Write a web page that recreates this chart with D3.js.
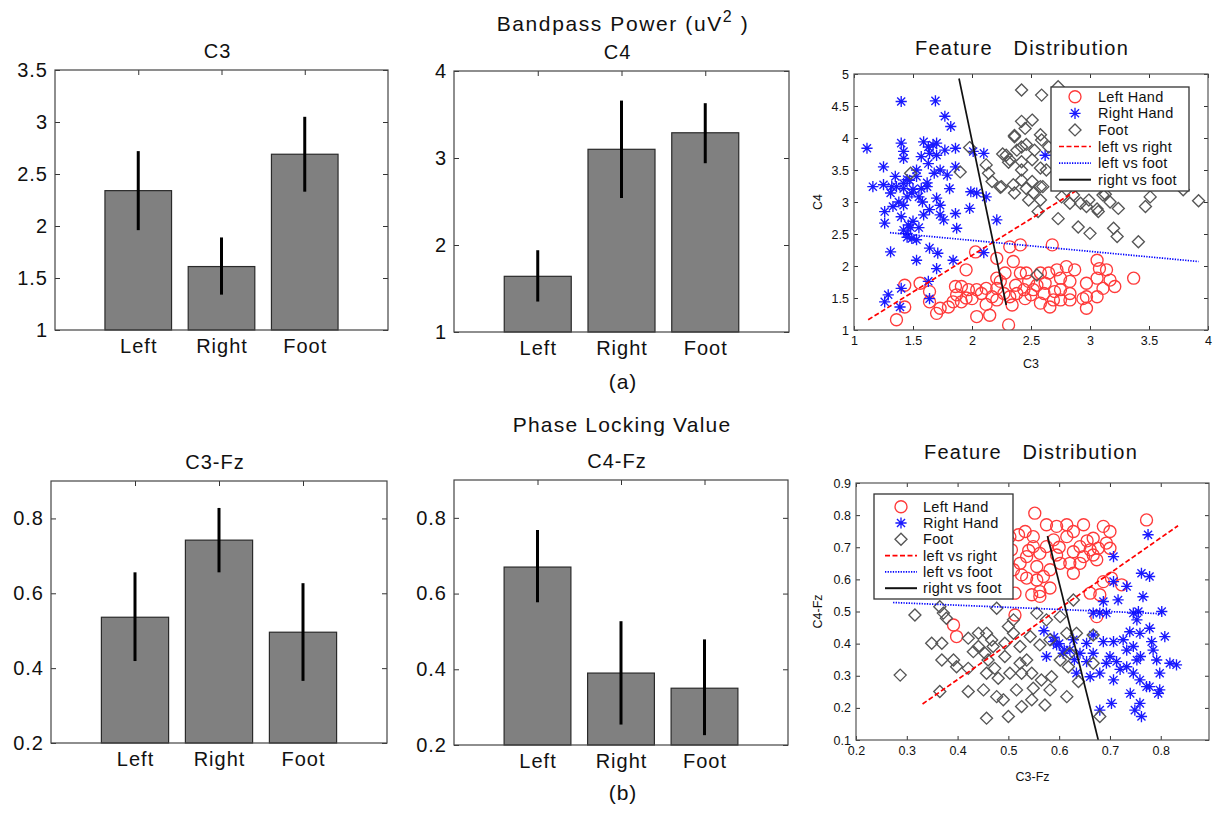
<!DOCTYPE html>
<html><head><meta charset="utf-8">
<script src="https://cdn.jsdelivr.net/npm/d3@7"></script>
<style>
body{margin:0;background:#fff}
text{font-family:"Liberation Sans",Arial,sans-serif;fill:#111}
</style>
</head><body>
<svg id="c" width="1219" height="814"></svg>
<script>
// ---------- DATA ----------
const categories = ["Left","Right","Foot"];
const c3Mean = [2.34,1.61,2.69], c3Lo = [1.96,1.34,2.33], c3Hi = [2.72,1.89,3.05];
const c4Mean = [1.64,3.10,3.29], c4Lo = [1.35,2.54,2.94], c4Hi = [1.94,3.66,3.63];
const c3fzMean = [0.536,0.742,0.496], c3fzLo = [0.419,0.656,0.366], c3fzHi = [0.656,0.828,0.627];
const c4fzMean = [0.670,0.390,0.350], c4fzLo = [0.577,0.254,0.226], c4fzHi = [0.768,0.527,0.479];
const c3Ticks = [1,1.5,2,2.5,3,3.5];
const c4Ticks = [1,2,3,4];
const plvTicks = [0.2,0.4,0.6,0.8];
const bpXTicks = [1,1.5,2,2.5,3,3.5,4];
const bpYTicks = [1,1.5,2,2.5,3,3.5,4,4.5,5];
const plvXTicks = [0.2,0.3,0.4,0.5,0.6,0.7,0.8];
const plvYTicks = [0.1,0.2,0.3,0.4,0.5,0.6,0.7,0.8,0.9];
const legendLabels = ["Left Hand","Right Hand","Foot","left vs right","left vs foot","right vs foot"];

// Bandpass power feature distribution (C3, C4)
const bpLeft = [[2.41,2.33],[2.32,2.30],[2.68,2.33],[2.03,2.22],[2.21,2.12],[2.35,2.07],[1.95,1.94],[2.28,1.89],[2.24,1.76],[2.41,1.89],
[2.48,1.76],[2.58,1.89],[2.65,1.89],[2.72,1.94],[2.80,1.99],[2.87,1.94],[2.75,1.81],[2.83,1.76],[3.06,2.09],[3.08,1.96],
[3.14,1.94],[3.17,1.78],[3.21,1.68],[3.37,1.81],[2.97,1.73],[3.06,1.81],[2.97,1.52],[3.06,1.52],[2.97,1.34],[2.83,1.57],
[2.75,1.63],[2.69,1.47],[2.66,1.36],[2.58,1.42],[2.61,1.57],[2.52,1.63],[2.44,1.63],[2.38,1.57],[2.32,1.52],[2.34,1.39],
[2.31,1.08],[2.15,1.23],[2.04,1.21],[2.17,1.52],[2.12,1.65],[2.08,1.57],[2.04,1.63],[1.97,1.63],[1.91,1.68],[1.86,1.68],
[1.87,1.55],[1.91,1.44],[1.84,1.44],[1.80,1.36],[1.73,1.34],[1.70,1.26],[1.64,1.44],[1.64,1.60],[1.56,1.73],[1.43,1.70],
[1.43,1.36],[1.36,1.16],[2.21,1.65],[2.21,1.47],[2.00,1.49],[2.21,1.81],[2.27,1.57],[2.37,1.70],[2.45,1.49],[2.62,1.73],
[2.70,1.60],[2.94,1.49],[2.83,1.47],[3.11,1.65],[2.46,1.89],[2.75,1.47],[2.55,1.70],[2.50,1.55],[2.12,1.40],[1.95,1.50]];
const bpRight = [[1.40,4.57],[1.69,4.58],[1.77,4.34],[1.82,4.18],[1.11,3.84],[1.40,3.92],[1.42,3.79],[1.42,3.68],[1.59,3.94],[1.63,3.86],
[1.67,3.89],[1.70,3.92],[1.64,3.76],[1.70,3.73],[1.77,3.81],[1.86,3.84],[1.57,3.71],[1.53,3.50],[1.63,3.60],[1.73,3.50],
[1.79,3.42],[1.86,3.55],[1.25,3.55],[1.16,3.24],[1.25,3.27],[1.32,3.24],[1.31,3.14],[1.36,3.24],[1.42,3.29],[1.42,3.21],
[1.47,3.34],[1.53,3.40],[1.49,3.14],[1.55,3.08],[1.45,3.08],[1.57,3.21],[1.62,3.24],[1.70,3.06],[1.73,2.95],[1.81,3.21],
[1.26,2.85],[1.26,2.67],[1.33,2.93],[1.42,2.95],[1.40,2.77],[1.46,2.64],[1.45,2.51],[1.49,2.43],[1.53,2.41],[1.42,2.56],
[1.59,2.80],[1.64,2.88],[1.73,2.80],[1.76,2.72],[1.86,2.82],[1.87,2.59],[1.98,2.90],[1.99,3.16],[2.04,3.14],[2.12,3.08],
[2.01,3.79],[2.10,3.76],[2.21,2.72],[1.31,2.22],[1.53,2.09],[1.64,2.28],[1.71,2.20],[1.84,2.09],[1.70,1.96],[2.10,2.21],
[2.62,3.73],[1.40,1.65],[1.29,1.55],[1.26,1.44],[1.39,1.36],[1.63,1.76],[1.64,1.49],[1.45,3.35],[1.50,3.20],[1.38,3.00],
[1.55,2.60],[1.50,2.70],[1.45,2.45],[1.62,3.30],[1.68,3.45],[1.35,3.40],[1.58,3.00],[1.48,2.60]];
const bpFoot = [[2.42,4.75],[2.59,4.67],[2.73,4.80],[2.42,4.26],[2.51,4.28],[2.45,4.15],[2.36,4.02],[2.58,4.05],[2.59,3.97],[2.38,3.81],
[2.42,3.86],[2.53,3.81],[2.65,3.86],[1.98,3.85],[2.29,3.73],[2.32,3.66],[2.42,3.63],[2.42,3.50],[2.51,3.66],[2.58,3.53],
[2.63,3.50],[2.12,3.58],[2.14,3.45],[2.17,3.32],[2.25,3.24],[1.90,3.47],[1.48,3.45],[2.35,3.27],[2.36,3.14],[2.42,3.34],
[2.46,3.21],[2.51,3.32],[2.52,3.14],[2.58,3.24],[2.58,3.03],[2.48,3.03],[2.56,2.85],[2.60,3.24],[2.73,2.74],[2.76,3.08],
[2.83,2.98],[2.86,3.11],[2.92,2.98],[2.99,3.03],[2.97,2.93],[3.07,2.85],[3.11,3.11],[3.17,3.00],[3.24,2.90],[2.90,2.61],
[3.00,2.51],[3.20,2.59],[3.23,2.46],[3.41,2.38],[3.47,2.93],[3.51,3.08],[3.79,3.19],[3.92,3.02],[2.55,1.86],[2.26,3.75],
[2.31,3.62],[2.24,3.23],[3.06,2.89],[3.13,3.12],[2.36,4.04],[2.46,3.90]];
// Phase locking value feature distribution (C3-Fz, C4-Fz)
const plvLeft = [[0.552,0.806],[0.533,0.749],[0.520,0.739],[0.549,0.733],[0.575,0.770],[0.595,0.765],[0.615,0.770],[0.648,0.770],[0.628,0.749],[0.667,0.728],
[0.687,0.765],[0.700,0.749],[0.693,0.713],[0.700,0.697],[0.677,0.697],[0.661,0.692],[0.641,0.702],[0.648,0.671],[0.667,0.676],[0.674,0.661],
[0.641,0.650],[0.621,0.650],[0.628,0.619],[0.602,0.650],[0.595,0.676],[0.575,0.702],[0.562,0.681],[0.556,0.640],[0.536,0.671],[0.523,0.650],
[0.510,0.630],[0.526,0.614],[0.536,0.604],[0.556,0.598],[0.569,0.609],[0.582,0.630],[0.562,0.562],[0.582,0.573],[0.562,0.547],[0.513,0.557],
[0.513,0.489],[0.546,0.552],[0.661,0.557],[0.687,0.593],[0.703,0.604],[0.723,0.583],[0.680,0.552],[0.674,0.484],[0.772,0.785],[0.392,0.458],
[0.398,0.422],[0.506,0.692],[0.503,0.733],[0.615,0.733],[0.549,0.702],[0.589,0.723],[0.628,0.686],[0.540,0.690],[0.600,0.700],[0.655,0.720]];
const plvRight = [[0.775,0.739],[0.707,0.671],[0.707,0.593],[0.716,0.536],[0.687,0.531],[0.733,0.578],[0.762,0.619],[0.778,0.609],[0.765,0.546],[0.802,0.500],
[0.667,0.495],[0.680,0.495],[0.693,0.495],[0.746,0.495],[0.756,0.500],[0.753,0.474],[0.778,0.448],[0.808,0.422],[0.785,0.380],[0.739,0.437],
[0.726,0.412],[0.707,0.406],[0.687,0.406],[0.667,0.427],[0.654,0.401],[0.641,0.370],[0.621,0.380],[0.608,0.370],[0.595,0.396],[0.628,0.412],
[0.589,0.406],[0.575,0.360],[0.693,0.339],[0.713,0.344],[0.733,0.328],[0.753,0.349],[0.792,0.349],[0.798,0.308],[0.818,0.339],[0.831,0.334],
[0.680,0.308],[0.661,0.297],[0.707,0.287],[0.746,0.308],[0.759,0.287],[0.772,0.266],[0.795,0.245],[0.740,0.245],[0.759,0.214],[0.749,0.193],
[0.762,0.173],[0.703,0.214],[0.680,0.193],[0.798,0.256],[0.634,0.308],[0.654,0.344],[0.667,0.370],[0.746,0.391],[0.759,0.432],[0.778,0.266],
[0.733,0.380],[0.700,0.360],[0.782,0.406],[0.570,0.440],[0.590,0.420],[0.610,0.380],[0.600,0.400],[0.630,0.350],[0.720,0.320],[0.760,0.360]];
const plvFoot = [[0.287,0.302],[0.316,0.489],[0.365,0.515],[0.372,0.495],[0.378,0.479],[0.349,0.401],[0.369,0.401],[0.369,0.349],[0.392,0.349],[0.365,0.251],
[0.398,0.328],[0.421,0.417],[0.421,0.323],[0.421,0.251],[0.441,0.432],[0.441,0.391],[0.457,0.432],[0.467,0.411],[0.454,0.370],[0.460,0.349],
[0.457,0.308],[0.451,0.256],[0.457,0.168],[0.473,0.323],[0.480,0.292],[0.477,0.235],[0.493,0.401],[0.493,0.360],[0.500,0.453],[0.510,0.474],
[0.510,0.432],[0.523,0.391],[0.523,0.339],[0.526,0.308],[0.503,0.308],[0.490,0.225],[0.500,0.173],[0.516,0.256],[0.526,0.204],[0.543,0.422],
[0.546,0.308],[0.549,0.261],[0.546,0.225],[0.562,0.396],[0.565,0.287],[0.572,0.209],[0.582,0.256],[0.585,0.297],[0.582,0.412],[0.575,0.474],
[0.556,0.495],[0.628,0.536],[0.602,0.484],[0.615,0.432],[0.621,0.370],[0.618,0.328],[0.615,0.235],[0.602,0.349],[0.638,0.282],[0.634,0.432],
[0.667,0.427],[0.667,0.339],[0.680,0.173],[0.477,0.510],[0.536,0.349],[0.470,0.391],[0.431,0.375]];
// classifier boundary lines [start, end]
const bpLvR = [[1.12,1.16],[3.0,3.31]];
const bpLvF = [[1.305,2.52],[3.92,2.07]];
const bpRvF = [[1.89,4.93],[2.29,1.39]];
const plvLvR = [[0.331,0.212],[0.834,0.767]];
const plvLvF = [[0.273,0.528],[0.802,0.493]];
const plvRvF = [[0.577,0.735],[0.677,0.10]];

// ---------- DRAW ----------
const svg = d3.select("#c");
const FS = 20;

function styleAxis(g, fs){
  g.select(".domain").remove();
  g.selectAll(".tick line").attr("stroke","#333");
  g.selectAll("text").attr("font-size",fs).attr("fill","#111");
}

function barChart(box, domY, ticks, fmt, mean, lo, hi, title){
  const x = d3.scaleLinear().domain([0,4]).range([box.x0,box.x1]);
  const y = d3.scaleLinear().domain(domY).range([box.y1,box.y0]);
  const g = svg.append("g");
  g.append("rect").attr("x",box.x0).attr("y",box.y0).attr("width",box.x1-box.x0).attr("height",box.y1-box.y0)
    .attr("fill","#fff");
  const ax = g.append("g").attr("transform",`translate(${box.x0},0)`)
    .call(d3.axisLeft(y).tickValues(ticks).tickFormat(fmt).tickSize(-5).tickPadding(7));
  styleAxis(ax, FS); ax.selectAll("text").attr("letter-spacing",1);
  const axr = g.append("g").attr("transform",`translate(${box.x1},0)`)
    .call(d3.axisRight(y).tickValues(ticks).tickFormat("").tickSize(-5));
  styleAxis(axr, FS);
  const axt = g.append("g").attr("transform",`translate(0,${box.y0})`)
    .call(d3.axisTop(x).tickValues([1,2,3]).tickFormat("").tickSize(-5));
  styleAxis(axt, FS);
  const axb = g.append("g").attr("transform",`translate(0,${box.y1})`)
    .call(d3.axisBottom(x).tickValues([1,2,3]).tickFormat((d,i)=>categories[i]).tickSize(-5).tickPadding(9));
  styleAxis(axb, FS); axb.selectAll("text").attr("letter-spacing",1);
  g.selectAll("rect.bar").data(mean).join("rect").attr("class","bar")
    .attr("x",(d,i)=>x(i+1-0.4)).attr("width",x(0.8)-x(0))
    .attr("y",d=>y(d)).attr("height",d=>y(domY[0])-y(d))
    .attr("fill","#808080").attr("stroke","#2a2a2a").attr("stroke-width",1.2);
  g.selectAll("line.err").data(mean).join("line").attr("class","err")
    .attr("x1",(d,i)=>x(i+1)).attr("x2",(d,i)=>x(i+1))
    .attr("y1",(d,i)=>y(lo[i])).attr("y2",(d,i)=>y(hi[i]))
    .attr("stroke","#000").attr("stroke-width",3);
  g.append("rect").attr("x",box.x0).attr("y",box.y0).attr("width",box.x1-box.x0).attr("height",box.y1-box.y0)
    .attr("fill","none").attr("stroke","#444").attr("stroke-width",1.2);
  g.append("text").attr("x",(box.x0+box.x1)/2-4).attr("y",box.y0-12).attr("text-anchor","middle")
    .attr("font-size",FS).attr("letter-spacing",1).text(title);
}

const fmtG = d3.format("~g"), fmt1 = d3.format(".1f");
barChart({x0:55,x1:388,y0:70,y1:330},[1,3.5],c3Ticks,fmtG,c3Mean,c3Lo,c3Hi,"C3");
barChart({x0:454,x1:789,y0:71,y1:332},[1,4],c4Ticks,fmtG,c4Mean,c4Lo,c4Hi,"C4");
barChart({x0:51,x1:387,y0:481,y1:743},[0.2,0.9],plvTicks,fmt1,c3fzMean,c3fzLo,c3fzHi,"C3-Fz");
barChart({x0:454,x1:788,y0:480,y1:745},[0.2,0.9],plvTicks,fmt1,c4fzMean,c4fzLo,c4fzHi,"C4-Fz");

// section titles
const t1 = svg.append("text").attr("x",623).attr("y",31).attr("text-anchor","middle").attr("font-size",21).attr("letter-spacing",1.6);
t1.append("tspan").text("Bandpass Power (uV");
t1.append("tspan").attr("dy",-9).attr("font-size",16).text("2");
t1.append("tspan").attr("dy",9).text(" )");
svg.append("text").attr("x",623).attr("y",389).attr("text-anchor","middle").attr("font-size",21).attr("letter-spacing",1).text("(a)");
svg.append("text").attr("x",622).attr("y",432).attr("text-anchor","middle").attr("font-size",21).attr("letter-spacing",1.2).text("Phase Locking Value");
svg.append("text").attr("x",623).attr("y",800).attr("text-anchor","middle").attr("font-size",21).attr("letter-spacing",1).text("(b)");

// scatter
function starPath(cx,cy,r){
  const d=r*0.72;
  return `M${cx-r},${cy}H${cx+r}M${cx},${cy-r}V${cy+r}M${cx-d},${cy-d}L${cx+d},${cy+d}M${cx-d},${cy+d}L${cx+d},${cy-d}`;
}
function diamondPath(cx,cy,r){
  return `M${cx},${cy-r}L${cx+r},${cy}L${cx},${cy+r}L${cx-r},${cy}Z`;
}
const RED="#ff3a3a", BLUE="#1a1aff", GRAY="#555555";
const MSW = 1.35;

function scatter(o){
  const x = d3.scaleLinear().domain(o.domX).range([o.x0,o.x1]);
  const y = d3.scaleLinear().domain(o.domY).range([o.y1,o.y0]);
  const g = svg.append("g");
  g.append("rect").attr("x",o.x0).attr("y",o.y0).attr("width",o.x1-o.x0).attr("height",o.y1-o.y0).attr("fill","#fff");
  const ax = g.append("g").attr("transform",`translate(${o.x0},0)`)
    .call(d3.axisLeft(y).tickValues(o.yTicks).tickFormat(o.fmt).tickSize(-4).tickPadding(5));
  styleAxis(ax, 12.5);
  const axr = g.append("g").attr("transform",`translate(${o.x1},0)`)
    .call(d3.axisRight(y).tickValues(o.yTicks).tickFormat("").tickSize(-4));
  styleAxis(axr, 12);
  const axb = g.append("g").attr("transform",`translate(0,${o.y1})`)
    .call(d3.axisBottom(x).tickValues(o.xTicks).tickFormat(o.fmt).tickSize(-4).tickPadding(6));
  styleAxis(axb, 12.5);
  const axt = g.append("g").attr("transform",`translate(0,${o.y0})`)
    .call(d3.axisTop(x).tickValues(o.xTicks).tickFormat("").tickSize(-4));
  styleAxis(axt, 12);
  const clip = "clip"+o.id;
  g.append("clipPath").attr("id",clip).append("rect").attr("x",o.x0).attr("y",o.y0).attr("width",o.x1-o.x0).attr("height",o.y1-o.y0);
  const m = g.append("g").attr("clip-path",`url(#${clip})`);
  m.selectAll("circle.l").data(o.left).join("circle").attr("class","l")
    .attr("cx",d=>x(d[0])).attr("cy",d=>y(d[1])).attr("r",6)
    .attr("fill","none").attr("stroke",RED).attr("stroke-width",MSW);
  m.selectAll("path.r").data(o.right).join("path").attr("class","r")
    .attr("d",d=>starPath(x(d[0]),y(d[1]),5.6)).attr("fill","none").attr("stroke",BLUE).attr("stroke-width",MSW);
  m.selectAll("path.f").data(o.foot).join("path").attr("class","f")
    .attr("d",d=>diamondPath(x(d[0]),y(d[1]),6)).attr("fill","none").attr("stroke",GRAY).attr("stroke-width",MSW);
  const ln = d3.line().x(d=>x(d[0])).y(d=>y(d[1]));
  m.append("path").attr("d",ln(o.lvr)).attr("stroke","#ff0000").attr("stroke-width",1.7).attr("stroke-dasharray","5,2.5").attr("fill","none");
  m.append("path").attr("d",ln(o.lvf)).attr("stroke","#0000ff").attr("stroke-width",1.7).attr("stroke-dasharray","1.3,1.3").attr("fill","none");
  m.append("path").attr("d",ln(o.rvf)).attr("stroke","#111").attr("stroke-width",1.7).attr("fill","none");
  g.append("rect").attr("x",o.x0).attr("y",o.y0).attr("width",o.x1-o.x0).attr("height",o.y1-o.y0)
    .attr("fill","none").attr("stroke","#555").attr("stroke-width",1.2);
  // legend
  const L=o.leg;
  const lg = g.append("g");
  lg.append("rect").attr("x",L.x0).attr("y",L.y0).attr("width",L.x1-L.x0).attr("height",L.y1-L.y0)
    .attr("fill","#fff").attr("stroke","#333").attr("stroke-width",1.3);
  legendLabels.forEach((lab,i)=>{
    const cy = L.r0 + i*L.dy;
    if(i===0) lg.append("circle").attr("cx",L.mx).attr("cy",cy).attr("r",6).attr("fill","none").attr("stroke",RED).attr("stroke-width",MSW);
    if(i===1) lg.append("path").attr("d",starPath(L.mx,cy,5.6)).attr("fill","none").attr("stroke",BLUE).attr("stroke-width",MSW);
    if(i===2) lg.append("path").attr("d",diamondPath(L.mx,cy,6)).attr("fill","none").attr("stroke",GRAY).attr("stroke-width",MSW);
    if(i===3) lg.append("line").attr("x1",L.mx-16).attr("x2",L.mx+16).attr("y1",cy).attr("y2",cy).attr("stroke","#ff0000").attr("stroke-width",1.7).attr("stroke-dasharray","5,2.5");
    if(i===4) lg.append("line").attr("x1",L.mx-16).attr("x2",L.mx+16).attr("y1",cy).attr("y2",cy).attr("stroke","#0000ff").attr("stroke-width",1.7).attr("stroke-dasharray","1.3,1.3");
    if(i===5) lg.append("line").attr("x1",L.mx-16).attr("x2",L.mx+16).attr("y1",cy).attr("y2",cy).attr("stroke","#111").attr("stroke-width",2);
    lg.append("text").attr("x",L.tx).attr("y",cy).attr("dy","0.35em").attr("font-size",14.5).attr("letter-spacing",0.3).text(lab);
  });
  // labels
  svg.append("text").attr("x",o.tX).attr("y",o.tY).attr("text-anchor","middle").attr("font-size",20)
    .attr("letter-spacing",1.3).style("white-space","pre").text("Feature   Distribution");
  svg.append("text").attr("x",(o.x0+o.x1)/2).attr("y",o.xlY).attr("text-anchor","middle").attr("font-size",12.5).text(o.xl);
  svg.append("text").attr("transform",`translate(${o.ylX},${(o.y0+o.y1)/2}) rotate(-90)`).attr("text-anchor","middle")
    .attr("font-size",12.5).text(o.yl);
}

scatter({id:"bp",x0:854,x1:1208,y0:74,y1:330,domX:[1,4],domY:[1,5],xTicks:bpXTicks,yTicks:bpYTicks,fmt:fmtG,
  left:bpLeft,right:bpRight,foot:bpFoot,lvr:bpLvR,lvf:bpLvF,rvf:bpRvF,
  leg:{x0:1051,x1:1189,y0:87,y1:191,r0:96.7,dy:16.6,mx:1075,tx:1098},
  tX:1022,tY:55,xl:"C3",xlY:368,yl:"C4",ylX:822});
scatter({id:"plv",x0:856,x1:1209,y0:483,y1:740,domX:[0.2,0.895],domY:[0.1,0.9],xTicks:plvXTicks,yTicks:plvYTicks,fmt:fmt1,
  left:plvLeft,right:plvRight,foot:plvFoot,lvr:plvLvR,lvf:plvLvF,rvf:plvRvF,
  leg:{x0:874,x1:1013,y0:494,y1:599,r0:506.7,dy:16.3,mx:901,tx:923},
  tX:1031,tY:459,xl:"C3-Fz",xlY:781,yl:"C4-Fz",ylX:822});
</script>
</body></html>
